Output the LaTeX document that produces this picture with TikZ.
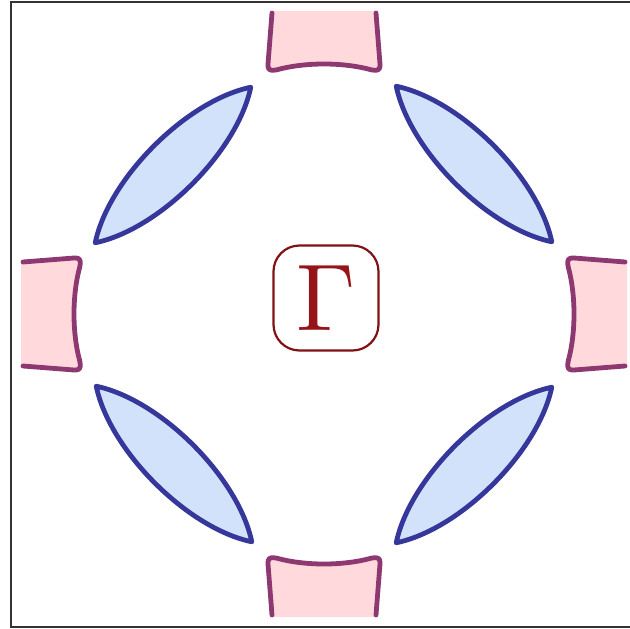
\documentclass[tikz,border=0pt]{standalone}
\usepackage{graphicx}
\usepackage{xcolor}
\definecolor{pocketfill}{RGB}{255,217,220}
\definecolor{pocketline}{RGB}{142,56,114}
\definecolor{lensfill}{RGB}{211,226,251}
\definecolor{lensline}{RGB}{54,55,154}
\definecolor{gammared}{RGB}{150,20,24}
\usepackage{tikz}
\tikzset{
  fs_pocket/.style={fill=pocketfill,draw=none},
  fs_edge/.style={draw=pocketline,line width=4.8pt,
    line join=round,line cap=round},
  fs_lens/.style={fill=lensfill,draw=lensline,line width=4.8pt,
    line join=round},
  gam_box/.style={rectangle,rounded corners=26pt,
    draw=gammared!85!black,line width=2.2pt,
    minimum size=105pt,inner sep=0pt,
    text=gammared},
  frame_line/.style={draw=black!80,line width=1.8pt},
}
\newcommand{\bigGam}{\scalebox{9.5}{$\Gamma$}}

\begin{document}
\begin{tikzpicture}[x=1pt,y=-1pt]
  \useasboundingbox (0,0) rectangle (630,629);
  % hole pockets at the zone edges
  \foreach \rot in {0,90,180,270} {
    \begin{scope}[rotate around={\rot:(324,314)}]
      \fill[fs_pocket] (270,11) -- (267,70) .. controls (300,61) and (348,61) .. (381,70)
        -- (378,11) -- cycle;
      \draw[fs_edge] (272,13) -- (268,64) .. controls (267.5,70) and (270,71) .. (276,70)
        .. controls (305,62) and (343,62) .. (372,70)
        .. controls (378,71) and (380.5,70) .. (380,64) -- (376,13);
    \end{scope}
  }
  % electron pockets
  \foreach \cx/\cy/\ang in {173/165/45,474/164/-45,174/464/-45,474/465/45} {
    \begin{scope}[shift={(\cx,\cy)},rotate=\ang]
      \draw[fs_lens] (-110,0) .. controls (-55,-36) and (55,-36) .. (110,0)
        .. controls (55,36) and (-55,36) .. (-110,0) -- cycle;
    \end{scope}
  }
  \node[gam_box] (gam) at (326,298) {\bigGam};
  \draw[frame_line] (631,2) -- (11,2) -- (11,627) -- (631,627);
\end{tikzpicture}
\end{document}
